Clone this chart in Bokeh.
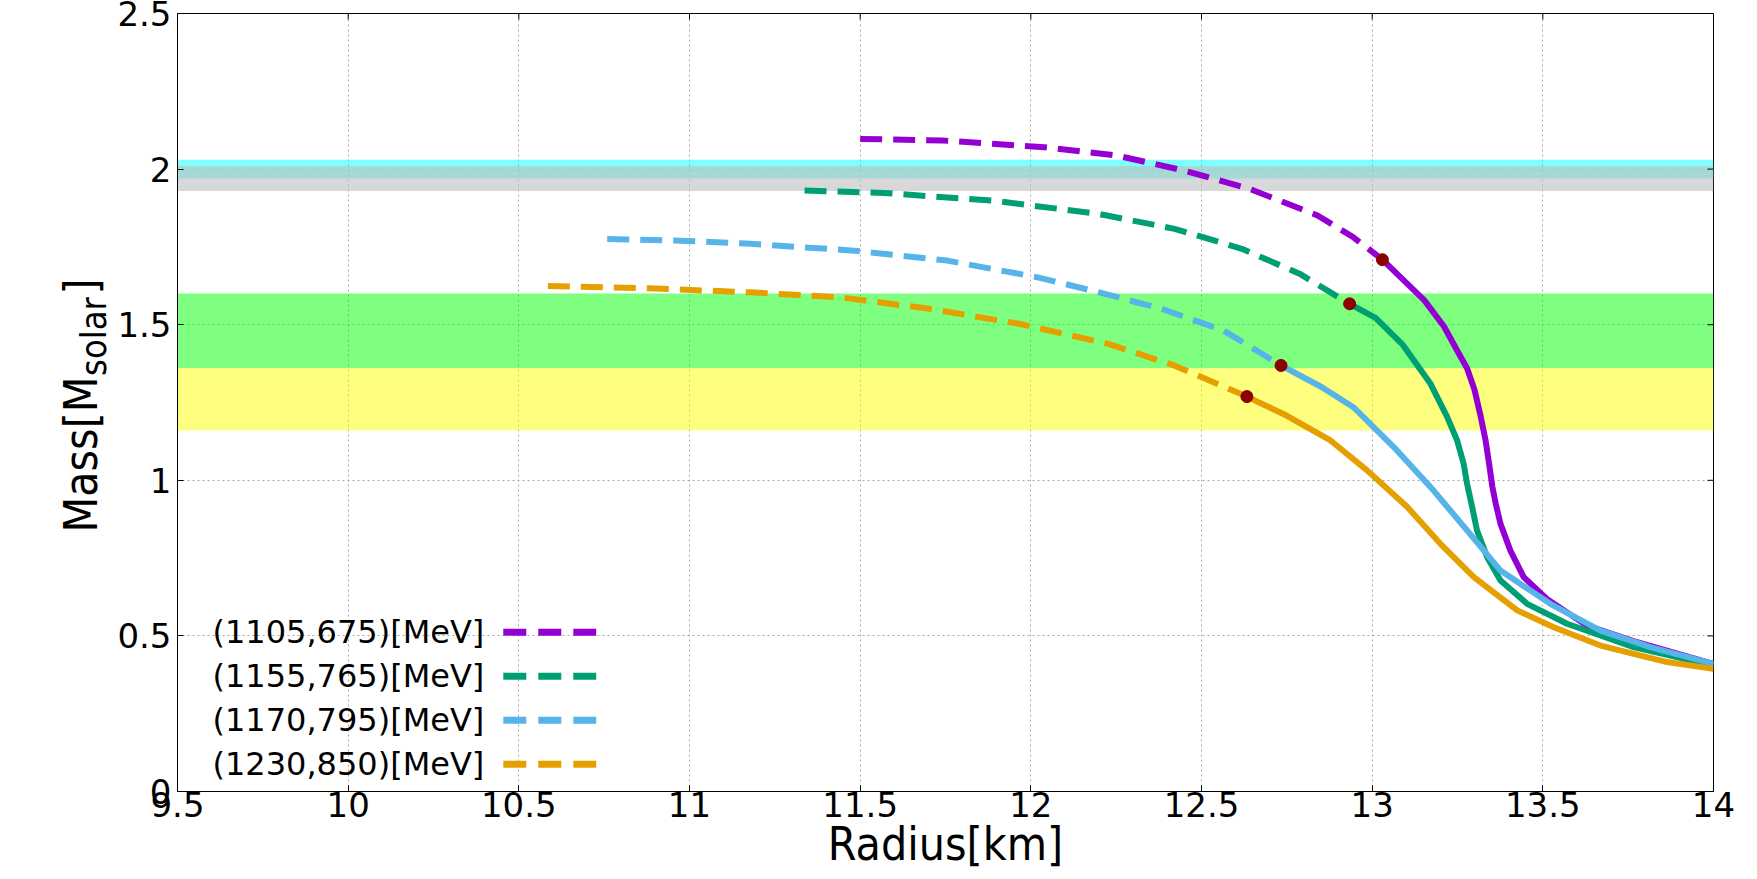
import numpy as np
from bokeh.plotting import figure
from bokeh.layouts import row
from bokeh.models import FixedTicker, Label, Range1d
from bokeh.core.properties import value
from bokeh.embed import file_html
from bokeh.resources import INLINE

# ---------------- data ----------------
x_ticks = [9.5, 10, 10.5, 11, 11.5, 12, 12.5, 13, 13.5, 14]
x_tick_labels = ["9.5", "10", "10.5", "11", "11.5", "12", "12.5", "13", "13.5", "14"]
y_ticks = [0, 0.5, 1, 1.5, 2, 2.5]
y_tick_labels = ["0", "0.5", "1", "1.5", "2", "2.5"]

x_title = "Radius[km]"
y_title_parts = ["Mass[M", "solar", "]"]   # "solar" is a subscript

series_labels = ["(1105,675)[MeV]", "(1155,765)[MeV]", "(1170,795)[MeV]", "(1230,850)[MeV]"]
series_colors = ["#9400d3", "#009e73", "#56b4e9", "#e69f00"]

# radius [km] / mass [M_solar]; the marked point splits dashed (before) and solid (after)
r_1105 = [11.50, 11.74, 12.04, 12.25, 12.45, 12.64, 12.84, 12.945, 13.03, 13.153, 13.21,
          13.249, 13.278, 13.30, 13.317, 13.332, 13.343, 13.352, 13.362, 13.376, 13.405,
          13.444, 13.512, 13.629, 13.766, 14.0]
m_1105 = [2.097, 2.092, 2.070, 2.044, 1.995, 1.937, 1.851, 1.781, 1.709, 1.578, 1.495,
          1.417, 1.360, 1.290, 1.210, 1.130, 1.050, 0.980, 0.925, 0.860, 0.774,
          0.689, 0.619, 0.533, 0.483, 0.410]
mark_1105 = 8

r_1155 = [11.337, 11.572, 11.886, 12.199, 12.421, 12.618, 12.787, 12.934, 13.01, 13.09,
          13.171, 13.22, 13.249, 13.268, 13.278, 13.293, 13.307, 13.337, 13.376, 13.454,
          13.571, 13.766, 14.0]
m_1155 = [1.931, 1.923, 1.899, 1.856, 1.808, 1.744, 1.664, 1.567, 1.522, 1.435,
          1.310, 1.203, 1.128, 1.053, 0.989, 0.914, 0.839, 0.753, 0.678, 0.603,
          0.539, 0.464, 0.405]
mark_1155 = 7

r_1170 = [10.759, 10.97, 11.18, 11.481, 11.755, 12.017, 12.2, 12.383, 12.565, 12.733,
          12.853, 12.945, 13.064, 13.18, 13.278, 13.376, 13.522, 13.669, 13.815, 14.0]
m_1170 = [1.775, 1.770, 1.760, 1.738, 1.706, 1.653, 1.604, 1.551, 1.481, 1.369,
          1.299, 1.235, 1.106, 0.967, 0.839, 0.710, 0.603, 0.517, 0.464, 0.410]
mark_1170 = 9

r_1230 = [10.585, 10.88, 11.18, 11.442, 11.703, 11.965, 12.225, 12.42, 12.633, 12.749,
          12.878, 12.986, 13.103, 13.2, 13.298, 13.425, 13.532, 13.669, 13.864, 14.0]
m_1230 = [1.624, 1.617, 1.604, 1.588, 1.551, 1.503, 1.439, 1.369, 1.269, 1.208,
          1.128, 1.031, 0.914, 0.796, 0.689, 0.582, 0.528, 0.469, 0.416, 0.394]
mark_1230 = 8

series_r = [r_1105, r_1155, r_1170, r_1230]
series_m = [m_1105, m_1155, m_1170, m_1230]
series_mark = [mark_1105, mark_1155, mark_1170, mark_1230]

# observational bands (mass ranges)
band_low = [1.97, 1.93, 1.36, 1.16]
band_high = [2.03, 2.01, 1.60, 1.36]
band_colors = ["#00ffff", "#c0c0c0", "#00ff00", "#ffff00"]
band_alpha = [0.5, 0.62, 0.5, 0.5]

# ---------------- layout ----------------
X0, X1, Y0, Y1 = 9.5, 14.0, 0.0, 2.5
W, H = 1757, 879
TW = 114                       # width of the y-title strip
FL, FR, FT, FB = 176, 1713, 13, 791   # frame edges in page pixels
TICK_LEN = 6

TICK_FONT = "DejaVu Sans"
TITLE_FONT = "DejaVu Sans Condensed"


def px_r(px):
    return X0 + (px - FL) / (FR - FL) * (X1 - X0)


def px_m(py):
    return Y1 - (py - FT) / (FB - FT) * (Y1 - Y0)


# ---- y-title strip (rotated text, centre-anchored); its frame is aligned with the main frame ----
t = figure(width=TW, height=H, x_range=Range1d(0, TW), y_range=Range1d(H - FB, H - FT),
           output_backend="svg", toolbar_location=None,
           x_axis_location=None, y_axis_location=None, min_border=0,
           min_border_top=FT, min_border_bottom=H - FB)
t.grid.visible = False
t.outline_line_color = None
t.background_fill_color = "white"
t.border_fill_color = "white"
title_cx = [80.5, 92.5, 80.5]
title_cy = [H - 454, H - 336, H - 286]
title_size = ["46px", "36px", "46px"]
for txt, xx, yy, fs in zip(y_title_parts, title_cx, title_cy, title_size):
    t.text(x=[xx], y=[yy], text=[txt], angle=np.pi / 2, text_align="center",
           text_baseline="middle", text_font=value(TITLE_FONT),
           text_font_size=value(fs), text_color="black")

# ---- main plot ----
p = figure(width=W - TW, height=H, x_range=Range1d(X0, X1), y_range=Range1d(Y0, Y1),
           output_backend="svg", toolbar_location=None,
           min_border_left=FL - TW, min_border_right=W - FR,
           min_border_top=FT, min_border_bottom=H - FB)
p.background_fill_color = "white"
p.border_fill_color = "white"
p.outline_line_color = "black"
p.outline_line_width = 1

p.xaxis.ticker = FixedTicker(ticks=x_ticks)
p.yaxis.ticker = FixedTicker(ticks=y_ticks)
p.xaxis.major_label_overrides = {tk: s for tk, s in zip(x_ticks, x_tick_labels)}
p.yaxis.major_label_overrides = {tk: s for tk, s in zip(y_ticks, y_tick_labels)}
for ax in (p.xaxis[0], p.yaxis[0]):
    ax.major_tick_in = TICK_LEN
    ax.major_tick_out = 0
    ax.minor_tick_line_color = None
    ax.axis_line_color = "black"
    ax.major_tick_line_color = "black"
    ax.major_label_text_font = TICK_FONT
    ax.major_label_text_font_size = "34px"
    ax.major_label_text_color = "black"
p.xaxis.major_label_standoff = 0
p.yaxis.major_label_standoff = 6

p.xaxis.axis_label = x_title
p.xaxis.axis_label_text_font = TITLE_FONT
p.xaxis.axis_label_text_font_size = "46px"
p.xaxis.axis_label_text_font_style = "normal"
p.xaxis.axis_label_text_color = "black"
p.xaxis.axis_label_standoff = -3

p.xgrid.ticker = FixedTicker(ticks=x_ticks)
p.ygrid.ticker = FixedTicker(ticks=y_ticks)
for g in (p.xgrid[0], p.ygrid[0]):
    g.grid_line_color = "#a8a8a8"
    g.grid_line_dash = "2 3"
    g.grid_line_width = 1

# bands
for lo, hi, c, a in zip(band_low, band_high, band_colors, band_alpha):
    p.quad(left=X0, right=X1, bottom=lo, top=hi, fill_color=c, fill_alpha=a, line_color=None)

# mirrored inward ticks on the top and right frame edges
p.segment(x0=x_ticks, y0=[Y1] * len(x_ticks), x1=x_ticks,
          y1=[px_m(FT + TICK_LEN)] * len(x_ticks), line_color="black", line_width=1)
p.segment(x0=[X1] * len(y_ticks), y0=y_ticks, x1=[px_r(FR - TICK_LEN)] * len(y_ticks),
          y1=y_ticks, line_color="black", line_width=1)

# curves
DASH = "22 11"
LW = 6
for r, m, k, c in zip(series_r, series_m, series_mark, series_colors):
    p.line(r[:k + 1], m[:k + 1], line_color=c, line_width=LW, line_dash=DASH,
           line_cap="butt", line_join="round")
    p.line(r[k:], m[k:], line_color=c, line_width=LW, line_join="round")
p.scatter([r[k] for r, k in zip(series_r, series_mark)],
          [m[k] for m, k in zip(series_m, series_mark)],
          size=12, fill_color="#8b0000", line_color="#8b0000")

# legend (text left, dashed sample right)
leg_centers = [631.7, 675.7, 719.7, 763.7]
for lab, c, cy in zip(series_labels, series_colors, leg_centers):
    p.add_layout(Label(x=px_r(483), y=px_m(cy), text=lab, text_align="right",
                       text_baseline="middle", text_font=TICK_FONT, text_font_size="32px",
                       text_color="black"))
    p.line([px_r(502), px_r(595)], [px_m(cy), px_m(cy)], line_color=c, line_width=7,
           line_dash="23 12", line_cap="butt")

layout = row(t, p, spacing=0)
open("out.html", "w").write(file_html(layout, INLINE))
